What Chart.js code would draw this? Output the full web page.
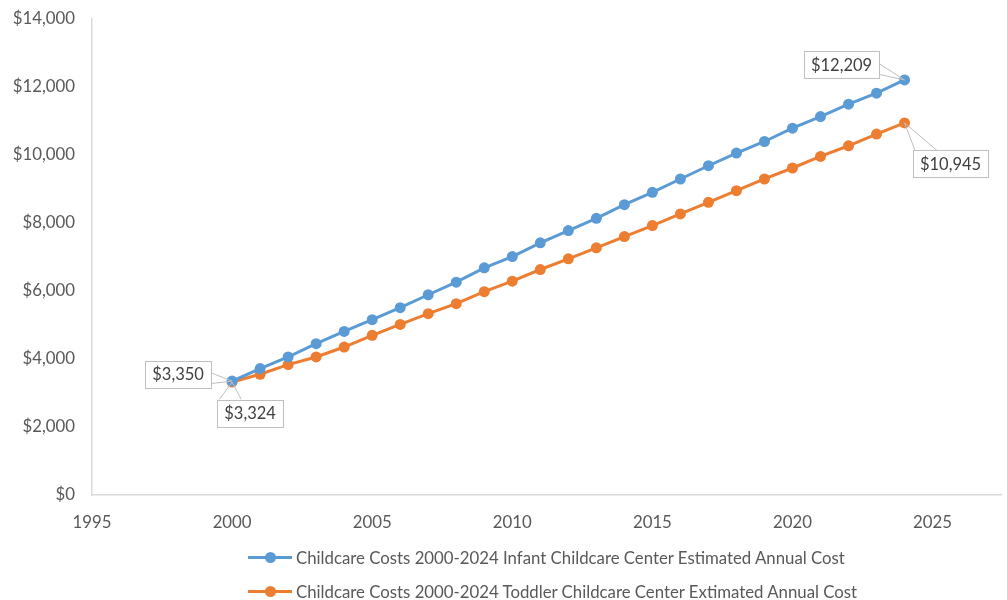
<!DOCTYPE html>
<html lang="en">
<head>
  <meta charset="UTF-8">
  <title>Childcare Costs 2000-2024</title>
  <script src="https://cdn.jsdelivr.net/npm/chart.js"></script>
  <style>
    html, body {
      margin: 0;
      padding: 0;
      background: #ffffff;
      overflow: hidden;
    }
    .wrap {
      position: relative;
      width: 1007px;
      height: 600px;
    }
    .legend {
      position: absolute;
      left: 248px;
      top: 540px;
      font-family: 'Lato', 'Open Sans', sans-serif;
      font-size: 16.8px;
      color: #595959;
    }
    .legend-row {
      display: flex;
      align-items: center;
      height: 34px;
      white-space: nowrap;
    }
    .legend-mark {
      position: relative;
      width: 44px;
      height: 12px;
      margin-right: 4px;
    }
    .legend-mark .ln {
      position: absolute;
      left: 0;
      right: 0;
      top: 5px;
      height: 3px;
    }
    .legend-mark .dot {
      position: absolute;
      left: 17px;
      top: 1px;
      width: 11px;
      height: 11px;
      border-radius: 50%;
    }
  </style>
</head>
<body>
  <div class="wrap">
    <canvas id="cost-chart" width="1007" height="600"></canvas>
    <div class="legend" id="legend"></div>
  </div>

  <script>
    // data
    const years = [2000, 2001, 2002, 2003, 2004, 2005, 2006, 2007, 2008, 2009, 2010, 2011, 2012,
                   2013, 2014, 2015, 2016, 2017, 2018, 2019, 2020, 2021, 2022, 2023, 2024];
    const infantCost = [3350, 3719, 4060, 4452, 4813, 5157, 5509, 5891, 6261, 6683, 7015, 7417, 7778,
                        8140, 8541, 8903, 9296, 9686, 10059, 10399, 10792, 11133, 11497, 11821, 12209];
    const toddlerCost = [3324, 3551, 3836, 4060, 4353, 4696, 5019, 5333, 5627, 5980, 6290, 6633, 6947,
                         7270, 7602, 7925, 8268, 8610, 8952, 9296, 9619, 9959, 10273, 10616, 10945];
    const seriesNames = [
      'Childcare Costs 2000-2024 Infant Childcare Center Estimated Annual Cost',
      'Childcare Costs 2000-2024 Toddler Childcare Center Extimated Annual Cost'
    ];
    const seriesColors = ['#5b9bd5', '#ed7d31'];

    const textColor = '#595959';
    const axisColor = '#d9d9d9';
    const fontFamily = "'Lato', 'Open Sans', sans-serif";

    function money(v) {
      return '$' + Math.round(v).toLocaleString('en-US');
    }

    // callouts: which series, which point, box offset from the point, leader side
    const callouts = [
      { ds: 0, idx: 0, dx: -54, dy: -7, side: 'right' },
      { ds: 1, idx: 0, dx: 18, dy: 31, side: 'top' },
      { ds: 0, idx: years.length - 1, dx: -63, dy: -15, side: 'right' },
      { ds: 1, idx: years.length - 1, dx: 46, dy: 41, side: 'top' }
    ];

    const calloutPlugin = {
      id: 'callouts',
      afterDatasetsDraw(chart) {
        const ctx = chart.ctx;
        ctx.save();
        ctx.font = '16.5px ' + fontFamily;
        callouts.forEach(c => {
          const pt = chart.getDatasetMeta(c.ds).data[c.idx];
          const value = chart.data.datasets[c.ds].data[c.idx].y;
          const text = money(value);
          const w = ctx.measureText(text).width + 14;
          const h = 27;
          const cx = pt.x + c.dx;
          const cy = pt.y + c.dy;
          const x0 = cx - w / 2;
          const y0 = cy - h / 2;

          // leader lines
          ctx.strokeStyle = '#bfbfbf';
          ctx.lineWidth = 1;
          ctx.beginPath();
          if (c.side === 'right') {
            ctx.moveTo(x0 + w, y0 + h * 0.45);
            ctx.lineTo(pt.x, pt.y);
            ctx.lineTo(x0 + w, y0 + h * 0.85);
          } else {
            const ax = c.dx > 0 ? x0 + 10 : x0 + w - 10;
            ctx.moveTo(ax - 8, y0);
            ctx.lineTo(pt.x, pt.y);
            ctx.lineTo(ax + 14, y0);
          }
          ctx.stroke();

          ctx.fillStyle = '#ffffff';
          ctx.fillRect(x0, y0, w, h);
          ctx.strokeRect(Math.round(x0) + 0.5, Math.round(y0) + 0.5, Math.round(w), h);

          ctx.fillStyle = '#404040';
          ctx.textAlign = 'center';
          ctx.textBaseline = 'middle';
          ctx.fillText(text, cx, cy + 1);
        });
        ctx.restore();
      }
    };

    const datasets = [infantCost, toddlerCost].map((vals, i) => ({
      label: seriesNames[i],
      data: years.map((yr, j) => ({ x: yr, y: vals[j] })),
      borderColor: seriesColors[i],
      backgroundColor: seriesColors[i],
      borderWidth: 3,
      pointRadius: 5.5,
      pointHoverRadius: 5.5,
      pointBorderWidth: 0,
      tension: 0
    }));

    const costChart = new Chart(document.getElementById('cost-chart'), {
      type: 'line',
      data: { datasets: datasets },
      options: {
        responsive: false,
        animation: false,
        layout: { padding: { left: 0, right: 4, top: 11, bottom: 65 } },
        plugins: {
          legend: { display: false },
          tooltip: { enabled: false }
        },
        scales: {
          x: {
            type: 'linear',
            min: 1995,
            max: 2027.46,
            grid: { display: false },
            border: { display: true, color: axisColor, width: 1.5 },
            ticks: {
              stepSize: 5,
              includeBounds: false,
              padding: 10,
              color: textColor,
              font: { family: fontFamily, size: 16.8 },
              maxRotation: 0,
              callback: v => String(v)
            },
            afterFit: s => { s.height = 40; }
          },
          y: {
            min: 0,
            max: 14000,
            grid: { display: false },
            border: { display: true, color: axisColor, width: 1.5 },
            ticks: {
              stepSize: 2000,
              padding: 9,
              color: textColor,
              font: { family: fontFamily, size: 16.8 },
              callback: v => money(v)
            },
            afterFit: s => { s.width = 92; }
          }
        }
      },
      plugins: [calloutPlugin]
    });

    // legend, stacked and left aligned like the original
    const legendEl = document.getElementById('legend');
    seriesNames.forEach((name, i) => {
      const row = document.createElement('div');
      row.className = 'legend-row';
      row.innerHTML =
        '<span class="legend-mark"><span class="ln" style="background:' + seriesColors[i] + '"></span>' +
        '<span class="dot" style="background:' + seriesColors[i] + '"></span></span>' +
        '<span>' + name + '</span>';
      legendEl.appendChild(row);
    });
  </script>
</body>
</html>
